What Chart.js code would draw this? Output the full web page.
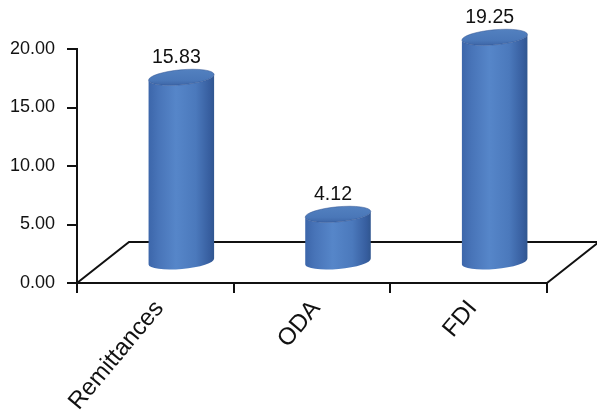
<!DOCTYPE html>
<html>
<head>
<meta charset="utf-8">
<script src="https://cdn.jsdelivr.net/npm/chart.js@4.4.0/dist/chart.umd.min.js"></script>
<style>
  html, body { margin: 0; padding: 0; background: #ffffff; }
  #wrap { width: 597px; height: 415px; }
</style>
</head>
<body>
<div id="wrap"><canvas id="chart" width="597" height="415"></canvas></div>
<script>
// Inflows by type
const categories = ['Remittances', 'ODA', 'FDI'];
const values = [15.83, 4.12, 19.25];
const yTicks = [0, 5, 10, 15, 20];

const FONT = "'Liberation Sans', Arial, Helvetica, sans-serif";
const INK = '#111111';

// 3D floor depth (pixels) and cylinder cap shape
const DEPTH_X = 52;
const DEPTH_Y = -41;
const CAP_RY = 7.5;
const CAP_TILT = -0.09;

// Floor: back edge and the two side edges of the parallelogram
const floorPlugin = {
  id: 'floor',
  beforeDatasetsDraw(chart) {
    const { ctx, chartArea: a } = chart;
    ctx.save();
    ctx.strokeStyle = INK;
    ctx.lineWidth = 2;
    ctx.lineJoin = 'miter';
    ctx.beginPath();
    ctx.moveTo(a.left, a.bottom);
    ctx.lineTo(a.left + DEPTH_X, a.bottom + DEPTH_Y);
    ctx.lineTo(a.right + DEPTH_X, a.bottom + DEPTH_Y);
    ctx.lineTo(a.right, a.bottom);
    ctx.stroke();
    ctx.restore();
  }
};

// Cylinders drawn over each (invisible) bar element, set back to mid-depth
const cylinderPlugin = {
  id: 'cylinders',
  afterDatasetsDraw(chart) {
    const { ctx } = chart;
    const meta = chart.getDatasetMeta(0);
    const ds = chart.data.datasets[0];
    meta.data.forEach((bar, i) => {
      const p = bar.getProps(['x', 'y', 'base', 'width'], true);
      const cx = p.x + DEPTH_X / 2;
      const top = p.y + DEPTH_Y / 2;
      const bottom = p.base + DEPTH_Y / 2;
      const rx = p.width / 2;
      const ry = CAP_RY;
      const c = Math.cos(CAP_TILT), s = Math.sin(CAP_TILT);

      ctx.save();
      // body
      const g = ctx.createLinearGradient(cx - rx, 0, cx + rx, 0);
      g.addColorStop(0.0, '#3c66aa');
      g.addColorStop(0.15, '#4874b8');
      g.addColorStop(0.42, '#5686c9');
      g.addColorStop(0.72, '#4b79bc');
      g.addColorStop(0.93, '#375e9f');
      g.addColorStop(1.0, '#30568f');
      ctx.beginPath();
      ctx.moveTo(cx - rx * c, top - rx * s);
      ctx.lineTo(cx - rx * c, bottom - rx * s);
      ctx.ellipse(cx, bottom, rx, ry, CAP_TILT, Math.PI, 0, true);
      ctx.lineTo(cx + rx * c, top + rx * s);
      ctx.ellipse(cx, top, rx, ry, CAP_TILT, 0, Math.PI, false);
      ctx.closePath();
      ctx.fillStyle = g;
      ctx.fill();

      // top cap
      const cg = ctx.createLinearGradient(0, top - ry, 0, top + ry);
      cg.addColorStop(0, '#5280bf');
      cg.addColorStop(0.7, '#4a77b8');
      cg.addColorStop(1, '#3f68a9');
      ctx.beginPath();
      ctx.ellipse(cx, top, rx, ry, CAP_TILT, 0, Math.PI * 2);
      ctx.fillStyle = cg;
      ctx.fill();
      ctx.strokeStyle = 'rgba(50,84,145,0.5)';
      ctx.lineWidth = 1;
      ctx.stroke();

      // value label
      ctx.fillStyle = INK;
      ctx.font = '19.5px ' + FONT;
      ctx.textAlign = 'center';
      ctx.textBaseline = 'alphabetic';
      ctx.fillText(ds.data[i].toFixed(2), cx - 5, top - ry - 7);
      ctx.restore();
    });
  }
};

new Chart(document.getElementById('chart'), {
  type: 'bar',
  data: {
    labels: categories,
    datasets: [{
      data: values,
      backgroundColor: 'rgba(0,0,0,0)',
      borderWidth: 0,
      categoryPercentage: 1,
      barPercentage: 0.42
    }]
  },
  options: {
    responsive: false,
    animation: false,
    devicePixelRatio: 1,
    layout: { padding: { top: 49, right: 50, left: 0, bottom: 0 } },
    plugins: {
      legend: { display: false },
      tooltip: { enabled: false }
    },
    scales: {
      x: {
        afterFit(scale) { scale.height = 132; },
        border: { display: true, color: INK, width: 2 },
        grid: {
          display: true,
          offset: true,
          drawOnChartArea: false,
          drawTicks: true,
          tickLength: 10,
          color: INK,
          lineWidth: 2
        },
        ticks: {
          color: INK,
          font: { family: FONT, size: 24 },
          minRotation: 50,
          maxRotation: 50,
          autoSkip: false,
          padding: 2,
          labelOffset: 4
        }
      },
      y: {
        min: 0,
        max: 20,
        afterFit(scale) { scale.width = 77; },
        afterBuildTicks(scale) { scale.ticks = yTicks.map(v => ({ value: v })); },
        border: { display: true, color: INK, width: 2 },
        grid: {
          display: true,
          drawOnChartArea: false,
          drawTicks: true,
          tickLength: 10,
          color: INK,
          lineWidth: 2
        },
        ticks: {
          color: INK,
          font: { family: FONT, size: 18 },
          padding: 12,
          callback: v => Number(v).toFixed(2)
        }
      }
    }
  },
  plugins: [floorPlugin, cylinderPlugin]
});
</script>
</body>
</html>
